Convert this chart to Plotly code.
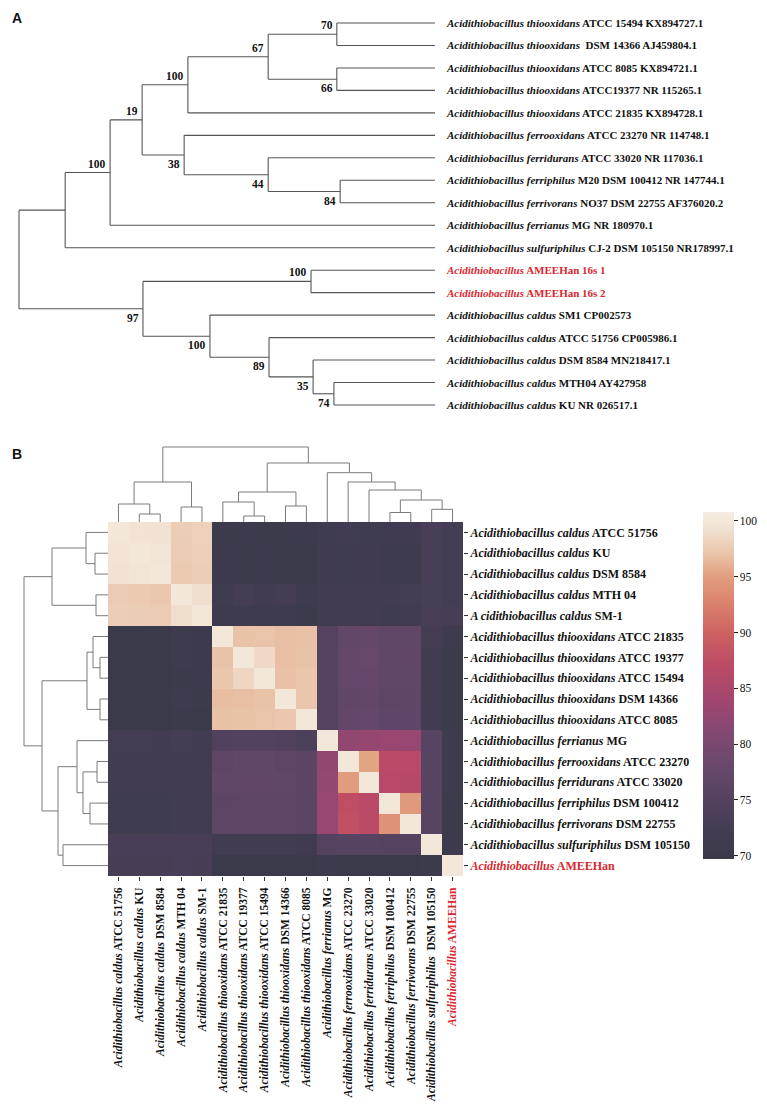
import plotly.graph_objects as go

# page geometry (the browser body adds an 8px margin, so the figure is drawn 8px in)
PAGE_W, PAGE_H = 767, 1109
OFF = 8
WF, HF = PAGE_W - OFF, PAGE_H - OFF
FONT = "Liberation Serif, Times New Roman, serif"
RED = "#d9282f"

# ---------------- Panel A : phylogenetic tree ----------------
tip_species = [
    "Acidithiobacillus thiooxidans", "Acidithiobacillus thiooxidans", "Acidithiobacillus thiooxidans",
    "Acidithiobacillus thiooxidans", "Acidithiobacillus thiooxidans", "Acidithiobacillus ferrooxidans",
    "Acidithiobacillus ferridurans", "Acidithiobacillus ferriphilus", "Acidithiobacillus ferrivorans",
    "Acidithiobacillus ferrianus", "Acidithiobacillus sulfuriphilus", "Acidithiobacillus",
    "Acidithiobacillus", "Acidithiobacillus caldus", "Acidithiobacillus caldus",
    "Acidithiobacillus caldus", "Acidithiobacillus caldus", "Acidithiobacillus caldus"]
tip_strains = [
    "ATCC 15494 KX894727.1", "\u00a0DSM 14366 AJ459804.1", "ATCC 8085 KX894721.1",
    "ATCC19377 NR 115265.1", "ATCC 21835 KX894728.1", "ATCC 23270 NR 114748.1",
    "ATCC 33020 NR 117036.1", "M20 DSM 100412 NR 147744.1", "NO37 DSM 22755 AF376020.2",
    "MG NR 180970.1", "CJ-2 DSM 105150 NR178997.1", "AMEEHan 16s 1", "AMEEHan 16s 2",
    "SM1 CP002573", "ATCC 51756 CP005986.1", "DSM 8584 MN218417.1", "MTH04 AY427958",
    "KU NR 026517.1"]
tip_new = [0] * 11 + [1, 1] + [0] * 5

# merges: internal node k = n_tips + index
tree_left = [0, 2, 18, 20, 7, 6, 5, 21, 25, 26, 11, 16, 15, 14, 13, 28, 27]
tree_right = [1, 3, 19, 4, 8, 22, 23, 24, 9, 10, 12, 17, 29, 30, 31, 32, 33]
tree_depth = [0.764, 0.764, 0.599, 0.406, 0.772, 0.599, 0.397, 0.296, 0.219, 0.111,
              0.702, 0.757, 0.707, 0.601, 0.459, 0.298, 0.0]
bootstrap = [70, 66, 67, 100, 84, 44, 38, 19, 100, None, 100, 74, 35, 89, 100, 97, None]
tip_depth = 1.0

# ---------------- Panel B : identity heatmap ----------------
row_species = ["Acidithiobacillus caldus"] * 4 + ["A cidithiobacillus caldus"] + \
    ["Acidithiobacillus thiooxidans"] * 5 + \
    ["Acidithiobacillus ferrianus", "Acidithiobacillus ferrooxidans", "Acidithiobacillus ferridurans",
     "Acidithiobacillus ferriphilus", "Acidithiobacillus ferrivorans",
     "Acidithiobacillus sulfuriphilus", "Acidithiobacillus"]
row_strains = ["ATCC 51756", "KU", "DSM 8584", "MTH 04", "SM-1", "ATCC 21835", "ATCC 19377",
               "ATCC 15494", "DSM 14366", "ATCC 8085", "MG", "ATCC 23270", "ATCC 33020",
               "DSM 100412", "DSM 22755", "DSM 105150", "AMEEHan"]
col_species = ["Acidithiobacillus caldus"] * 5 + ["Acidithiobacillus thiooxidans"] * 5 + \
    ["Acidithiobacillus ferrianus", "Acidithiobacillus ferrooxidans", "Acidithiobacillus ferridurans",
     "Acidithiobacillus ferriphilus", "Acidithiobacillus ferrivorans",
     "Acidithiobacillus sulfuriphilus", "Acidithiobacillus"]
col_strains = ["ATCC 51756", "KU", "DSM 8584", "MTH 04", "SM-1", "ATCC 21835", "ATCC 19377",
               "ATCC 15494", "DSM 14366", "ATCC 8085", "MG", "ATCC 23270", "ATCC 33020",
               "DSM 100412", "DSM 22755", "\u00a0DSM 105150", "AMEEHan"]
label_new = [0] * 16 + [1]

identity = [
    [100, 99.6, 99.5, 97.8, 98.0, 70.3, 70.2, 70.3, 70.4, 70.2, 71.5, 71.6, 71.5, 71.3, 71.3, 73.0, 72.3],
    [99.6, 100, 99.7, 97.6, 97.9, 70.2, 70.1, 70.2, 70.3, 70.1, 71.4, 71.5, 71.3, 71.0, 70.9, 73.0, 72.3],
    [99.5, 99.7, 100, 97.5, 97.8, 70.2, 70.1, 70.2, 70.3, 70.1, 71.4, 71.5, 71.3, 71.0, 70.9, 73.0, 72.3],
    [97.6, 97.5, 97.3, 100, 99.1, 71.5, 72.3, 71.6, 72.2, 70.8, 71.8, 71.9, 71.8, 71.9, 72.3, 73.0, 72.5],
    [97.8, 97.7, 97.6, 99.0, 100, 70.6, 70.7, 70.6, 70.8, 70.3, 71.6, 71.7, 71.6, 71.5, 71.6, 73.0, 72.8],
    [70.0, 70.0, 70.0, 70.5, 70.2, 100, 97.0, 97.1, 96.8, 96.9, 75.0, 77.3, 77.5, 76.8, 76.8, 72.3, 70.5],
    [70.0, 70.0, 70.0, 70.5, 70.2, 97.0, 100, 98.6, 96.8, 97.0, 75.2, 77.6, 77.8, 76.8, 76.9, 72.0, 70.4],
    [70.0, 70.0, 70.0, 70.4, 70.2, 97.2, 98.4, 100, 96.9, 97.2, 75.1, 77.4, 77.7, 76.8, 76.8, 72.0, 70.4],
    [70.0, 70.0, 70.0, 70.6, 70.3, 96.7, 96.8, 97.0, 100, 97.2, 75.0, 77.0, 77.2, 76.5, 76.6, 71.8, 70.3],
    [70.0, 70.0, 70.0, 70.3, 70.1, 96.9, 97.0, 97.1, 97.3, 100, 75.0, 77.2, 77.4, 76.7, 76.7, 71.8, 70.3],
    [72.2, 72.2, 72.0, 72.3, 72.0, 74.5, 74.8, 74.8, 74.5, 73.8, 100, 82.5, 82.8, 83.2, 83.0, 75.5, 70.8],
    [71.8, 71.8, 71.8, 72.0, 71.8, 76.5, 76.8, 76.8, 76.5, 76.0, 82.5, 100, 95.3, 86.8, 86.5, 75.5, 70.5],
    [71.8, 71.8, 71.8, 72.0, 71.8, 76.8, 77.0, 77.0, 76.8, 76.2, 82.6, 94.8, 100, 86.5, 86.3, 75.5, 70.5],
    [71.5, 71.5, 71.5, 71.8, 71.6, 76.2, 76.4, 76.4, 76.3, 75.8, 83.0, 87.5, 86.8, 100, 94.6, 75.5, 70.4],
    [71.5, 71.5, 71.5, 71.8, 71.6, 76.3, 76.5, 76.5, 76.4, 75.9, 83.0, 87.8, 86.9, 94.0, 100, 75.6, 70.4],
    [73.0, 73.0, 73.0, 73.2, 73.0, 71.8, 71.8, 71.9, 72.0, 71.4, 75.0, 75.3, 75.3, 75.0, 75.0, 100, 70.2],
    [72.8, 72.8, 72.8, 73.0, 72.8, 70.0, 70.0, 70.0, 70.0, 70.0, 70.2, 70.1, 70.1, 70.1, 70.0, 70.3, 100],
]

# column dendrogram merges (leaf indices 0..16, internal from 17), heights
col_left = [1, 0, 3, 18, 6, 5, 8, 22, 13, 15, 25, 12, 11, 10, 24, 20]
col_right = [2, 17, 4, 19, 7, 21, 9, 23, 14, 16, 26, 27, 28, 29, 30, 31]
col_height = [8, 18, 15, 40, 6, 20, 16, 30, 9.5, 12.7, 22, 32, 40, 49.3, 59, 75]
# row dendrogram merges
row_left = [1, 0, 3, 18, 6, 5, 8, 22, 11, 13, 25, 10, 15, 28, 24, 20]
row_right = [2, 17, 4, 19, 7, 21, 9, 23, 12, 14, 26, 27, 16, 29, 30, 31]
row_height = [13, 22, 12, 56, 8, 15, 8, 21, 11, 18, 25, 31, 45, 50, 66, 84]

cb_vals = [69.7, 72, 75, 78, 81, 84, 87, 90, 92.5, 95, 97, 99, 100.8]
cb_cols = ["rgb(58,58,74)", "rgb(66,60,82)", "rgb(84,66,96)", "rgb(104,72,108)",
           "rgb(130,72,114)", "rgb(162,70,112)", "rgb(188,74,102)", "rgb(206,98,98)",
           "rgb(218,128,108)", "rgb(226,158,126)", "rgb(233,195,168)", "rgb(240,222,205)",
           "rgb(246,238,228)"]
cb_ticks = [70, 75, 80, 85, 90, 95, 100]

# ---------------- helpers (page pixel -> paper) ----------------
def dx(p0, p1):
    return [(p0 - OFF) / WF, (p1 - OFF) / WF]

def dy(top, bottom):
    return [1 - (bottom - OFF) / HF, 1 - (top - OFF) / HF]

def lin_range(px0, px1, a_px, a_val, b_px, b_val):
    s = (b_val - a_val) / (b_px - a_px)
    return [a_val + (px0 - a_px) * s, a_val + (px1 - a_px) * s]

def rich(species, strain, new):
    t = "<b><i>%s</i> %s</b>" % (species, strain)
    if new:
        t = "<span style='color:%s'>%s</span>" % (RED, t)
    return t

fig = go.Figure()

# ---- tree geometry from merges ----
n_tips = len(tip_species)
ny = list(range(n_tips))
nd = [tip_depth] * n_tips
for a, b, d in zip(tree_left, tree_right, tree_depth):
    ny.append((ny[a] + ny[b]) / 2)
    nd.append(d)
tx, ty = [], []
for a, b, d in zip(tree_left, tree_right, tree_depth):
    tx += [d, d, None]
    ty += [ny[a], ny[b], None]
    for c in (a, b):
        tx += [d, nd[c], None]
        ty += [ny[c], ny[c], None]
fig.add_trace(go.Scatter(x=tx, y=ty, mode="lines", line=dict(color="#555555", width=1.1),
                         hoverinfo="skip", showlegend=False, xaxis="x", yaxis="y"))

annotations = []
parent_side = {}
for a, b in zip(tree_left, tree_right):
    parent_side[a] = "upper"
    parent_side[b] = "lower"
for k, bs in enumerate(bootstrap):
    if bs is None:
        continue
    node = n_tips + k
    up = parent_side.get(node) == "upper"
    annotations.append(dict(
        x=nd[node], y=ny[node], xref="x", yref="y", text="<b>%d</b>" % bs, showarrow=False,
        xanchor="right", yanchor="bottom" if up else "top", xshift=-2, yshift=1 if up else -1,
        font=dict(family=FONT, size=11.5, color="#111")))
for i in range(n_tips):
    annotations.append(dict(
        x=tip_depth, y=i, xref="x", yref="y", text=rich(tip_species[i], tip_strains[i], tip_new[i]),
        showarrow=False, xanchor="left", yanchor="middle", xshift=9,
        font=dict(family=FONT, size=11, color="#111")))

# ---- heatmap ----
zmin, zmax = cb_vals[0], cb_vals[-1]
colorscale = [[(v - zmin) / (zmax - zmin), c] for v, c in zip(cb_vals, cb_cols)]
n = len(identity)
fig.add_trace(go.Heatmap(
    z=identity, x=list(range(n)), y=list(range(n)), colorscale=colorscale, zmin=zmin, zmax=zmax,
    hoverinfo="skip", xaxis="x2", yaxis="y2",
    colorbar=dict(x=(703 - OFF) / WF, xanchor="left", xref="paper", xpad=0, ypad=0,
                  y=1 - (685.5 - OFF) / HF, yanchor="middle", yref="paper",
                  len=347, lenmode="pixels", thickness=31, thicknessmode="pixels",
                  outlinewidth=0, ticks="outside", ticklen=4, tickwidth=1, tickcolor="#222",
                  tickvals=cb_ticks, tickfont=dict(family=FONT, size=11.5, color="#111"))))

# ---- dendrograms ----
def dendro_lines(left, right, heights, nleaf):
    pos = list(range(nleaf))
    hh = [0.0] * nleaf
    for a, b, h in zip(left, right, heights):
        pos.append((pos[a] + pos[b]) / 2)
        hh.append(h)
    P, Q = [], []
    for a, b, h in zip(left, right, heights):
        P += [pos[a], pos[a], pos[b], pos[b], None]
        Q += [hh[a], h, h, hh[b], None]
    return P, Q

cp, ch = dendro_lines(col_left, col_right, col_height, n)
fig.add_trace(go.Scatter(x=cp, y=ch, mode="lines", line=dict(color="#7a7a7a", width=1),
                         hoverinfo="skip", showlegend=False, xaxis="x3", yaxis="y3"))
rp, rh = dendro_lines(row_left, row_right, row_height, n)
fig.add_trace(go.Scatter(x=rh, y=rp, mode="lines", line=dict(color="#7a7a7a", width=1),
                         hoverinfo="skip", showlegend=False, xaxis="x4", yaxis="y4"))

# ---- layout ----
hm_x = [108, 463]
hm_y = [522, 876]
hidden = dict(visible=False, showgrid=False, zeroline=False, fixedrange=True)

tree_xr = lin_range(12, 445, 19, 0.0, 435, 1.0)
tree_yr = lin_range(10, 420, 23, 0, 405, 17)

for letter, top in (("A", 8), ("B", 444)):
    annotations.append(dict(x=2 / WF, y=1 - (top - OFF) / HF,
                            xref="paper", yref="paper", text="<b>%s</b>" % letter,
                            showarrow=False, xanchor="left", yanchor="top",
                            font=dict(family="Liberation Sans, Arial, sans-serif", size=14,
                                      color="#111")))

fig.update_layout(
    template="none", width=WF, height=HF, autosize=False,
    margin=dict(l=0, r=0, t=0, b=0, pad=0),
    paper_bgcolor="white", plot_bgcolor="rgba(0,0,0,0)",
    font=dict(family=FONT, size=11, color="#111"),
    showlegend=False,
    xaxis=dict(hidden, domain=dx(12, 445), range=tree_xr, anchor="y"),
    yaxis=dict(hidden, domain=dy(10, 420), range=[tree_yr[1], tree_yr[0]], anchor="x"),
    xaxis2=dict(domain=dx(*hm_x), range=[-0.5, n - 0.5], anchor="y2", tickmode="array",
                tickvals=list(range(n)),
                ticktext=[rich(s, t, f) for s, t, f in zip(col_species, col_strains, label_new)],
                tickangle=-90, ticks="outside", ticklen=4, tickwidth=1, tickcolor="#333",
                ticklabelstandoff=2,
                showgrid=False, zeroline=False, showline=False, automargin=False,
                tickfont=dict(family=FONT, size=11.5, color="#111"), fixedrange=True),
    yaxis2=dict(domain=dy(*hm_y), range=[n - 0.5, -0.5], anchor="x2", side="right",
                tickmode="array", tickvals=list(range(n)),
                ticktext=[rich(s, t, f) for s, t, f in zip(row_species, row_strains, label_new)],
                ticks="outside", ticklen=4, tickwidth=1, tickcolor="#333",
                showgrid=False, zeroline=False, showline=False, automargin=False,
                tickfont=dict(family=FONT, size=12, color="#111"), fixedrange=True),
    xaxis3=dict(hidden, domain=dx(*hm_x), range=[-0.5, n - 0.5], anchor="y3"),
    yaxis3=dict(hidden, domain=dy(440, 523), range=lin_range(523, 440, 522, 0, 447, 75), anchor="x3"),
    xaxis4=dict(hidden, domain=dx(15, 109), range=lin_range(15, 109, 108, 0, 24, 84), anchor="y4"),
    yaxis4=dict(hidden, domain=dy(*hm_y), range=[n - 0.5, -0.5], anchor="x4"),
    annotations=annotations,
)

fig.write_html("out.html")
